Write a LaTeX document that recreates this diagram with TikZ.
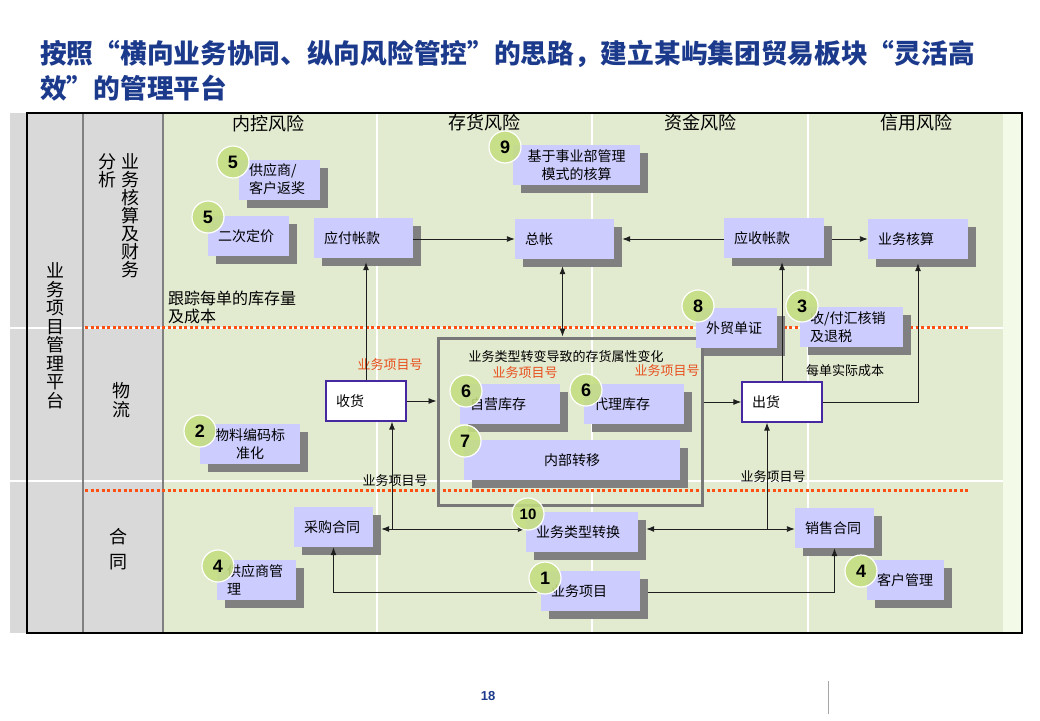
\documentclass[tikz,border=0pt]{standalone}
\usepackage{fontspec}
\setmainfont{Noto Sans CJK SC}
\newfontfamily\numfont{Liberation Sans}
\usetikzlibrary{arrows.meta,shadows,calc}
\definecolor{titleblue}{RGB}{28,58,140}
\definecolor{bggreen}{RGB}{226,234,208}
\definecolor{palegreen}{RGB}{244,250,232}
\definecolor{colgray}{RGB}{217,217,217}
\definecolor{sepgray}{RGB}{128,128,128}
\definecolor{lav}{RGB}{204,204,255}
\definecolor{shadowgray}{RGB}{128,128,128}
\definecolor{redline}{RGB}{255,80,20}
\definecolor{redtext}{RGB}{232,80,30}
\definecolor{circgreen}{RGB}{196,222,128}
\definecolor{boxpurple}{RGB}{70,40,160}
\definecolor{framegray}{RGB}{120,120,120}
\definecolor{linecol}{RGB}{30,30,30}
\tikzset{
  box/.style={rectangle, fill=lav, minimum height=40pt, inner xsep=10pt, inner ysep=2pt,
    font=\fontsize{14}{18}\selectfont,
    drop shadow={shadow xshift=8pt, shadow yshift=-8pt, fill=shadowgray, opacity=1}},
  lbox/.style={box, align=left},
  cbox/.style={box, align=center},
  flowbox/.style={rectangle, fill=white, draw=boxpurple, line width=1.3pt, minimum height=40pt,
    inner xsep=10pt, text width=60pt, align=left, font=\fontsize{14}{18}\selectfont},
  framebox/.style={rectangle, draw=framegray, line width=3pt, minimum width=264pt, minimum height=167pt, inner sep=0pt},
  badge/.style={circle, fill=circgreen, draw=white, line width=1.2pt, minimum size=32pt, inner sep=0pt,
    fill opacity=0.88, text opacity=1, font=\numfont\bfseries\fontsize{18}{18}\selectfont},
  arr/.style={-{Latex[length=8pt,width=6pt]}, line width=0.9pt, draw=linecol},
  darr/.style={{Latex[length=8pt,width=6pt]}-{Latex[length=8pt,width=6pt]}, line width=0.9pt, draw=linecol},
  hdr/.style={font=\fontsize{18}{18}\selectfont, inner sep=0pt},
  lbl/.style={font=\fontsize{13}{16}\selectfont, inner sep=0pt},
  redlbl/.style={lbl, text=redtext},
  vtext/.style={align=center, inner sep=0pt, font=\fontsize{18}{18.5}\selectfont},
  dotline/.style={redline, line width=3pt, dash pattern=on 3pt off 2.5pt},
}
\begin{document}
\begin{tikzpicture}[x=1pt,y=-1pt]
\useasboundingbox (0,0) rectangle (1040,720);
\fill[white] (0,0) rectangle (1040,720);
% title
\node[anchor=north west, align=left, inner sep=0pt, text=titleblue,
  font=\bfseries\fontsize{26.7}{35}\selectfont] (title) at (40,40)
  {按照“横向业务协同、纵向风险管控”的思路，建立某屿集团贸易板块“灵活高\\效”的管理平台};
% background
\fill[colgray] (10,113) rectangle (163,633);
\fill[bggreen] (163,113) rectangle (1003,633);
\fill[palegreen] (1003,113) rectangle (1022,633);
\foreach \xx in {377,592,808} \draw[white, line width=2pt] (\xx,113) -- (\xx,633);
\foreach \yy in {328,481} \draw[white, line width=1.5pt] (10,\yy) -- (1003,\yy);
\foreach \xx in {83,163} \draw[sepgray, line width=2.5pt] (\xx,113) -- (\xx,633);
\draw[black, line width=1.1pt] (27,113) rectangle (1022,633);
\draw[dotline] (85,327) -- (970,327);
\draw[dotline] (85,490) -- (968,490);
% headers
\node[hdr] (h1) at (268,124) {内控风险};
\node[hdr] (h2) at (484,123) {存货风险};
\node[hdr] (h3) at (700,123) {资金风险};
\node[hdr] (h4) at (916,123) {信用风险};
% left column texts
\node[vtext] (plat) at (55,336) {业\\务\\项\\目\\管\\理\\平\\台};
\node[vtext, font=\fontsize{18}{18}\selectfont] (fin1) at (130,216) {业\\务\\核\\算\\及\\财\\务};
\node[vtext, font=\fontsize{18}{18}\selectfont] (fin2) at (107,171) {分\\析};
\node[vtext, font=\fontsize{18}{19}\selectfont] (wl) at (121,400) {物\\流};
\node[vtext, font=\fontsize{18}{25}\selectfont] (ht) at (118,549.5) {合\\同};
% free labels
\node[anchor=west, align=left, inner sep=0pt, font=\fontsize{16}{18}\selectfont] (track) at (168,307) {跟踪每单的库存量\\及成本};
\node[redlbl] (r1) at (390,365) {业务项目号};
\node[redlbl] (r2) at (525,373) {业务项目号};
\node[redlbl] (r3) at (667,371) {业务项目号};
\node[lbl] (k1) at (395,481) {业务项目号};
\node[lbl] (k2) at (773,477) {业务项目号};
\node[lbl] (cost) at (845,371) {每单实际成本};
% frame
\node[framebox] (frame) at (570,421.5) {};
\node[lbl] (chg) at (566,357) {业务类型转变导致的存货属性变化};
% boxes
\node[lbox, text width=61pt] (fan) at (279.5,179.5) {供应商/\\客户返奖};
\node[lbox, text width=61pt] (ercdj) at (248.5,236) {二次定价};
\node[lbox, text width=79pt] (yfzk) at (363.5,238) {应付帐款};
\node[lbox, text width=79pt] (zz) at (564.5,239) {总帐};
\node[cbox, text width=107pt] (sybu) at (576.5,165) {基于事业部管理\\模式的核算};
\node[lbox, text width=80pt] (yszk) at (774,238) {应收帐款};
\node[lbox, text width=80pt] (ywhs) at (918,239) {业务核算};
\node[lbox, text width=61pt] (wmdz) at (736.5,328) {外贸单证};
\node[lbox, text width=83pt] (shf) at (851.5,327) {收/付汇核销\\及退税};
\node[flowbox] (sh) at (366,401) {收货};
\node[flowbox] (ch) at (782,402) {出货};
\node[lbox, text width=80pt] (zyck) at (510,404) {自营库存};
\node[lbox, text width=80pt] (dlck) at (634,404) {代理库存};
\node[cbox, text width=196pt] (nbzy) at (572,460) {内部转移};
\node[cbox, text width=80pt] (wlbm) at (250,444) {物料编码标\\准化};
\node[lbox, text width=59pt] (cght) at (333.5,527) {采购合同};
\node[lbox, text width=59pt] (gysgl) at (256.5,580) {供应商管\\理};
\node[lbox, text width=92pt] (ywlx) at (582,532) {业务类型转换};
\node[lbox, text width=79pt] (ywxm) at (590.5,591) {业务项目};
\node[lbox, text width=59pt] (xsht) at (834.5,528) {销售合同};
\node[lbox, text width=57pt] (khgl) at (905.5,580) {客户管理};
% connectors
\coordinate (rowa) at (0,239);
\coordinate (rowc) at (0,529);
\coordinate (rowb) at (0,592);
\coordinate (j1) at (392,529);
\coordinate (j2) at (767,529);
\draw[arr] (yfzk.east |- rowa) -- (zz.west |- rowa);
\draw[arr] (yszk.west |- rowa) -- ($(zz.east |- rowa)+(8,0)$);
\draw[arr] ($(yszk.east |- rowa)+(8,0)$) -- (ywhs.west |- rowa);
\draw[arr] (sh.north) -- ($(sh.north |- yfzk.south)+(0,4)$);
\draw[darr] ($(zz.south)+(-2,7)$) -- ($(zz.south |- frame.north)+(-2,0)$);
\draw[arr] (sh.east) -- (sh.east -| frame.west);
\draw[arr] (frame.east |- ch.west) -- (ch.west);
\draw[arr] (ch.north) -- ($(ch.north |- yszk.south)+(0,4)$);
\draw[arr] (ch.east) -| ($(ywhs.south)+(0,4)$);
\draw[darr] ($(cght.east |- rowc)+(8,0)$) -- (ywlx.west |- rowc);
\draw[arr] (j1) -- (j1 |- sh.south);
\draw[darr] ($(ywlx.east |- rowc)+(8,0)$) -- (xsht.west |- rowc);
\draw[arr] (j2) -- (j2 |- ch.south);
\draw[arr] (ywxm.west |- rowb) -| (cght.south);
\draw[arr] ($(ywxm.east |- rowb)+(8,0)$) -| (xsht.south);
% badges
\node[badge] (b5a) at (233,162) {5};
\node[badge] (b5b) at (208,217) {5};
\node[badge] (b9) at (505,147) {9};
\node[badge] (b8) at (698,306) {8};
\node[badge] (b3) at (802,306) {3};
\node[badge] (b6a) at (466,391) {6};
\node[badge] (b6b) at (586,390) {6};
\node[badge] (b7) at (465,441) {7};
\node[badge] (b2) at (200,431) {2};
\node[badge] (b4a) at (218,566) {4};
\node[badge, font=\numfont\bfseries\fontsize{15}{15}\selectfont] (b10) at (528,514) {10};
\node[badge] (b1) at (545,578) {1};
\node[badge] (b4b) at (861,571) {4};
% footer
\node[text=titleblue, font=\numfont\bfseries\fontsize{13}{13}\selectfont, inner sep=0pt] (pg) at (488,696) {18};
\draw[sepgray!70, line width=1pt] (828,681) -- (828,714);
\end{tikzpicture}
\end{document}
